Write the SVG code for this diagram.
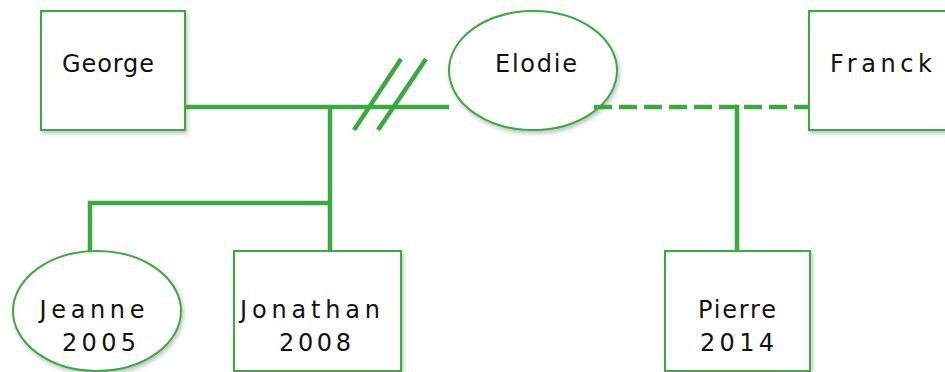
<svg xmlns="http://www.w3.org/2000/svg" width="945" height="372" viewBox="0 0 945 372">
<defs>
<filter id="sh" x="-10%" y="-10%" width="130%" height="130%">
<feDropShadow dx="1.5" dy="2.5" stdDeviation="2" flood-color="#000" flood-opacity="0.25"/>
</filter>
</defs>
<style>
.n{fill:#fff;stroke:#3aaa3f;stroke-width:2;filter:url(#sh)}
.t{font-family:"DejaVu Sans",sans-serif;font-size:24px;fill:#111;text-anchor:middle}
.c{stroke:#3aaa3f;stroke-width:4.5;fill:none}
.d{stroke-dasharray:18 7}
</style>
<rect width="945" height="372" fill="#fff"/>
<g id="george"><rect class="n" x="41" y="11" width="144" height="119"/><text class="t" x="108" y="72" textLength="92" lengthAdjust="spacing">George</text></g>
<g id="elodie"><ellipse class="n" cx="533" cy="70.5" rx="84" ry="59.5"/><text class="t" x="536" y="72" textLength="82" lengthAdjust="spacing">Elodie</text></g>
<g id="franck"><rect class="n" x="809" y="11" width="145" height="119"/><text class="t" x="881" y="72" textLength="102" lengthAdjust="spacing">Franck</text></g>
<g id="jeanne"><ellipse class="n" cx="97" cy="311" rx="84" ry="60"/><text class="t" x="92" y="318" textLength="105" lengthAdjust="spacing">Jeanne</text><text class="t" x="99" y="351" textLength="74" lengthAdjust="spacing">2005</text></g>
<g id="jonathan"><rect class="n" x="234" y="251" width="167" height="120"/><text class="t" x="310" y="318" textLength="140" lengthAdjust="spacing">Jonathan</text><text class="t" x="315" y="351" textLength="72" lengthAdjust="spacing">2008</text></g>
<g id="pierre"><rect class="n" x="665" y="251" width="145" height="120"/><text class="t" x="737" y="318" textLength="78" lengthAdjust="spacing">Pierre</text><text class="t" x="737" y="351" textLength="74" lengthAdjust="spacing">2014</text></g>
<g id="connectors">
<line class="c" x1="185" y1="107" x2="449" y2="107"/>
<line class="c" x1="401" y1="59" x2="354" y2="130"/>
<line class="c" x1="426" y1="59" x2="378" y2="130"/>
<line class="c" x1="330" y1="105" x2="330" y2="251"/>
<polyline class="c" points="332,203 90,203 90,251"/>
<line class="c d" x1="594" y1="107" x2="809" y2="107"/>
<polyline class="c" points="735,107 737,107 737,251"/>
</g>
</svg>
